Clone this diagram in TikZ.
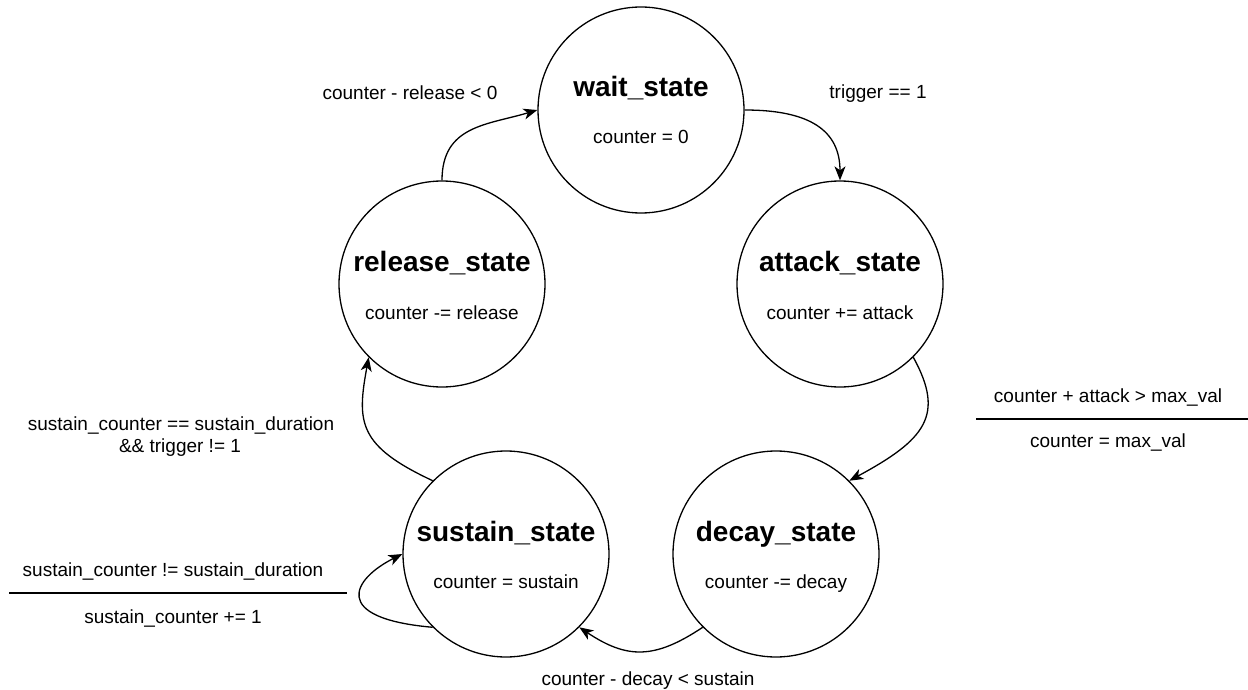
\documentclass[tikz,border=0pt]{standalone}
\usepackage{fontspec}
\setmainfont{Liberation Sans}
\usetikzlibrary{arrows.meta}
\begin{document}
\begin{tikzpicture}[x=1pt,y=-1pt,
  st/.style={circle,draw,line width=1.3pt,minimum size=206pt,inner sep=0pt},
  ttl/.style={anchor=base,font=\fontsize{28}{32}\selectfont\bfseries},
  txt/.style={anchor=base,font=\fontsize{19}{22}\selectfont},
  edge/.style={line width=1.3pt,-{Stealth[length=14pt,width=11pt,inset=4pt]}},
  sepline/.style={line width=1.3pt}]
\path[use as bounding box] (0,0) rectangle (1248,690);

% states
\node[st] (wait) at (641,110) {};
\node[ttl] (waitT) at (641,97) {wait\_state};
\node[txt] (waitS) at (641,144) {counter = 0};

\node[st] (attack) at (840,284) {};
\node[ttl] (attackT) at (840,271) {attack\_state};
\node[txt] (attackS) at (840,319) {counter += attack};

\node[st] (release) at (442,284) {};
\node[ttl] (releaseT) at (442,271) {release\_state};
\node[txt] (releaseS) at (442,319) {counter -= release};

\node[st] (sustain) at (506,554) {};
\node[ttl] (sustainT) at (506,541) {sustain\_state};
\node[txt] (sustainS) at (506,588) {counter = sustain};

\node[st] (decay) at (776,554) {};
\node[ttl] (decayT) at (776,541) {decay\_state};
\node[txt] (decayS) at (776,588) {counter -= decay};

% labels
\node[txt] (lRel) at (410,100) {counter - release < 0};
\node[txt] (lTrig) at (878,99) {trigger == 1};
\node[txt] (lAtk1) at (1108,402) {counter + attack > max\_val};
\coordinate (sa1) at (976,419);
\coordinate (sa2) at (1248,419);
\draw[sepline] (sa1) -- (sa2);
\node[txt] (lAtk2) at (1108,447) {counter = max\_val};
\node[txt] (lSR1) at (181,430) {sustain\_counter == sustain\_duration};
\node[txt] (lSR2) at (180,452) {\&\& trigger != 1};
\node[txt] (lSS1) at (173,576) {sustain\_counter != sustain\_duration};
\coordinate (ss1) at (9,593);
\coordinate (ss2) at (347,593);
\draw[sepline] (ss1) -- (ss2);
\node[txt] (lSS2) at (173,623) {sustain\_counter += 1};
\node[txt] (lDec) at (648,685) {counter - decay < sustain};

% transitions
\draw[edge] (release.north) .. controls +(0,-55) and +(-50,15) .. (wait.west);
\draw[edge] (wait.east) .. controls +(65,0) and +(0,-50) .. (attack.north);
\draw[edge] (attack.-45) .. controls +(32,58) and +(76,-41) .. (decay.45);
\draw[edge] (decay.225) .. controls +(-48,32) and +(48,32) .. (sustain.-45);
\draw[edge] (sustain.135) .. controls +(-75,-35) and +(-12,65) .. (release.225);
\draw[edge] (sustain.225) .. controls +(-103,-9) and +(-50,25) .. (sustain.west);
\end{tikzpicture}
\end{document}
